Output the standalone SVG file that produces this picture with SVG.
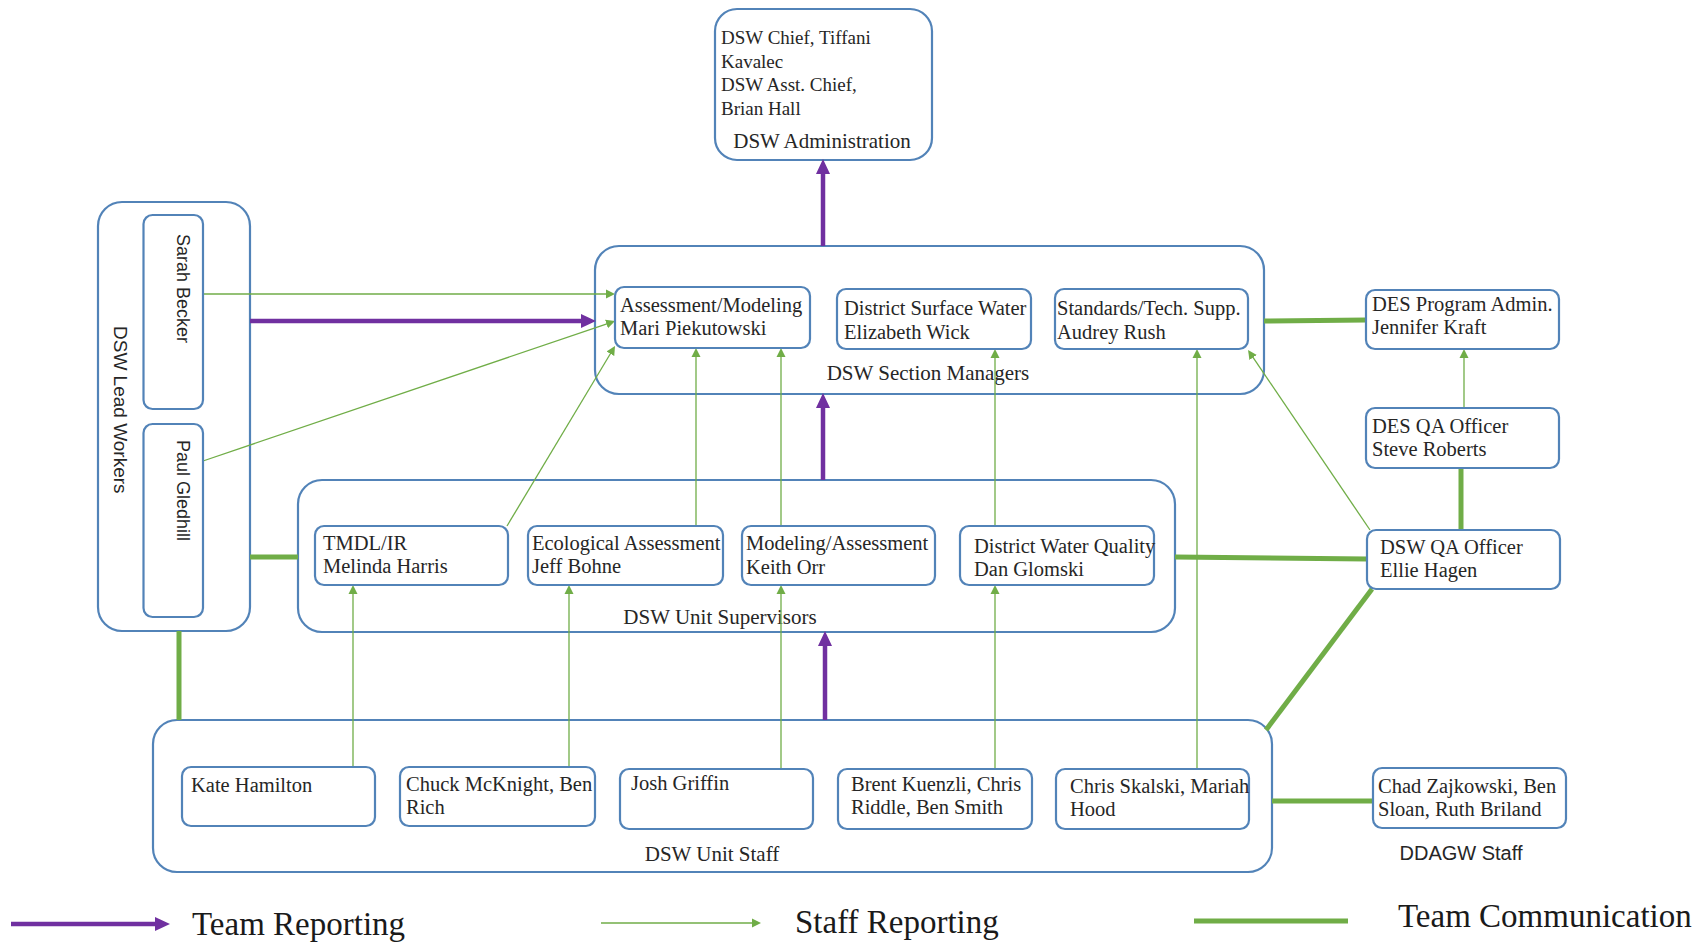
<svg xmlns="http://www.w3.org/2000/svg" width="1705" height="942" viewBox="0 0 1705 942">
<style>
.box{fill:#fff;stroke:#5283b8;stroke-width:2.2}
.t{font-family:"Liberation Serif",serif;font-size:20.5px;fill:#262626}
.ta{font-family:"Liberation Serif",serif;font-size:19px;fill:#262626}
.lbl{font-family:"Liberation Serif",serif;font-size:21px;fill:#262626;text-anchor:middle}
.s{font-family:"Liberation Sans",sans-serif;font-size:18px;fill:#262626}
.leg{font-family:"Liberation Serif",serif;font-size:33px;fill:#1a1a1a}
.team{stroke:#7030a0;stroke-width:4.5;fill:none;marker-end:url(#ap)}
.staff{stroke:#70ad47;stroke-width:1.3;fill:none;marker-end:url(#ag)}
.comm{stroke:#70ad47;stroke-width:5;fill:none}
</style>
<defs>
<marker id="ap" markerUnits="userSpaceOnUse" markerWidth="16" markerHeight="16" refX="4" refY="8" orient="auto">
<path d="M0,1 L15,8 L0,15 z" fill="#7030a0"/>
</marker>
<marker id="ag" markerUnits="userSpaceOnUse" markerWidth="10" markerHeight="10" refX="2" refY="5" orient="auto">
<path d="M0,0.5 L9,5 L0,9.5 z" fill="#70ad47"/>
</marker>
</defs>
<rect width="1705" height="942" fill="#fff"/>

<g id="admin">
<rect class="box" x="715" y="9" width="217" height="151" rx="22"/>
<text class="ta" x="721" y="44">DSW Chief, Tiffani</text>
<text class="ta" x="721" y="68">Kavalec</text>
<text class="ta" x="721" y="91">DSW Asst. Chief,</text>
<text class="ta" x="721" y="115">Brian Hall</text>
<text class="lbl" x="822" y="148">DSW Administration</text>
</g>

<g id="section-managers">
<rect class="box" x="595" y="246" width="669" height="148" rx="24"/>
<text class="lbl" x="928" y="380">DSW Section Managers</text>
</g>

<g id="lead-workers">
<rect class="box" x="98" y="202" width="152" height="429" rx="24"/>
<text class="s" style="font-size:19px" transform="translate(114,326) rotate(90)">DSW Lead Workers</text>
</g>

<g id="unit-supervisors">
<rect class="box" x="298" y="480" width="877" height="152" rx="24"/>
<text class="lbl" x="720" y="624">DSW Unit Supervisors</text>
</g>

<g id="unit-staff">
<rect class="box" x="153" y="720" width="1119" height="152" rx="24"/>
<text class="lbl" x="712" y="861">DSW Unit Staff</text>
</g>

<g id="connectors">
<line class="team" x1="823" y1="246" x2="823" y2="170"/>
<line class="team" x1="250" y1="321" x2="585" y2="321"/>
<line class="team" x1="823" y1="480" x2="823" y2="404"/>
<line class="team" x1="825" y1="720" x2="825" y2="642"/>

<line class="staff" x1="203" y1="294" x2="608" y2="294"/>
<line class="staff" x1="203" y1="461" x2="608.4" y2="323.3"/>
<line class="staff" x1="507" y1="526" x2="611.4" y2="352"/>
<line class="staff" x1="696" y1="526" x2="696" y2="355"/>
<line class="staff" x1="781" y1="526" x2="781" y2="355"/>
<line class="staff" x1="995" y1="526" x2="995" y2="356"/>
<line class="staff" x1="353" y1="767" x2="353" y2="592"/>
<line class="staff" x1="569" y1="767" x2="569" y2="592"/>
<line class="staff" x1="781" y1="769" x2="781" y2="592"/>
<line class="staff" x1="995" y1="769" x2="995" y2="592"/>
<line class="staff" x1="1197" y1="769" x2="1197" y2="356"/>
<line class="staff" x1="1464" y1="408" x2="1464" y2="356"/>
<line class="staff" x1="1370" y1="530" x2="1252" y2="355.8"/>

<line class="comm" x1="250" y1="557" x2="298" y2="557"/>
<line class="comm" x1="179" y1="631" x2="179" y2="720"/>
<line class="comm" x1="1264" y1="321" x2="1366" y2="320"/>
<line class="comm" x1="1461" y1="468" x2="1461" y2="530"/>
<line class="comm" x1="1175" y1="557" x2="1367" y2="559"/>
<line class="comm" x1="1372" y1="589" x2="1266" y2="730"/>
<line class="comm" x1="1272" y1="801" x2="1373" y2="801"/>

<line class="team" x1="11" y1="924" x2="159" y2="924"/>
<line class="staff" x1="601" y1="923" x2="754" y2="923"/>
<line class="comm" x1="1194" y1="921" x2="1348" y2="921"/>
</g>

<g id="sarah-becker">
<rect class="box" x="143.5" y="215" width="59.5" height="194" rx="9"/>
<text class="s" transform="translate(177,234) rotate(90)">Sarah Becker</text>
</g>
<g id="paul-gledhill">
<rect class="box" x="143.5" y="424" width="59.5" height="193" rx="9"/>
<text class="s" transform="translate(177,440) rotate(90)">Paul Gledhill</text>
</g>

<g id="assessment-modeling">
<rect class="box" x="615" y="287" width="195" height="61" rx="9"/>
<text class="t" x="620" y="312">Assessment/Modeling</text>
<text class="t" x="620" y="335">Mari Piekutowski</text>
</g>
<g id="district-surface-water">
<rect class="box" x="837" y="289" width="194" height="60" rx="9"/>
<text class="t" x="844" y="315">District Surface Water</text>
<text class="t" x="844" y="339">Elizabeth Wick</text>
</g>
<g id="standards-tech">
<rect class="box" x="1055" y="289" width="193" height="60" rx="9"/>
<text class="t" x="1057" y="315">Standards/Tech. Supp.</text>
<text class="t" x="1057" y="339">Audrey Rush</text>
</g>

<g id="tmdl-ir">
<rect class="box" x="315" y="526" width="193" height="59" rx="9"/>
<text class="t" x="323" y="550">TMDL/IR</text>
<text class="t" x="323" y="573">Melinda Harris</text>
</g>
<g id="ecological-assessment">
<rect class="box" x="528" y="526" width="195" height="59" rx="9"/>
<text class="t" x="532" y="550">Ecological Assessment</text>
<text class="t" x="532" y="573">Jeff Bohne</text>
</g>
<g id="modeling-assessment">
<rect class="box" x="742" y="526" width="193" height="59" rx="9"/>
<text class="t" x="746" y="550">Modeling/Assessment</text>
<text class="t" x="746" y="574">Keith Orr</text>
</g>
<g id="district-water-quality">
<rect class="box" x="960" y="526" width="194" height="59" rx="9"/>
<text class="t" x="974" y="553">District Water Quality</text>
<text class="t" x="974" y="576">Dan Glomski</text>
</g>

<g id="kate-hamilton">
<rect class="box" x="182" y="767" width="193" height="59" rx="9"/>
<text class="t" x="191" y="792">Kate Hamilton</text>
</g>
<g id="chuck-mcknight">
<rect class="box" x="400" y="767" width="195" height="59" rx="9"/>
<text class="t" x="406" y="791">Chuck McKnight, Ben</text>
<text class="t" x="406" y="814">Rich</text>
</g>
<g id="josh-griffin">
<rect class="box" x="620" y="769" width="193" height="60" rx="9"/>
<text class="t" x="631" y="790">Josh Griffin</text>
</g>
<g id="brent-kuenzli">
<rect class="box" x="838" y="769" width="194" height="60" rx="9"/>
<text class="t" x="851" y="791">Brent Kuenzli, Chris</text>
<text class="t" x="851" y="814">Riddle, Ben  Smith</text>
</g>
<g id="chris-skalski">
<rect class="box" x="1056" y="769" width="193" height="60" rx="9"/>
<text class="t" x="1070" y="793">Chris Skalski, Mariah</text>
<text class="t" x="1070" y="816">Hood</text>
</g>

<g id="des-program-admin">
<rect class="box" x="1366" y="290" width="193" height="59" rx="9"/>
<text class="t" x="1372" y="311">DES Program Admin.</text>
<text class="t" x="1372" y="334">Jennifer Kraft</text>
</g>
<g id="des-qa-officer">
<rect class="box" x="1366" y="408" width="193" height="60" rx="9"/>
<text class="t" x="1372" y="433">DES QA Officer</text>
<text class="t" x="1372" y="456">Steve Roberts</text>
</g>
<g id="dsw-qa-officer">
<rect class="box" x="1367" y="530" width="193" height="59" rx="9"/>
<text class="t" x="1380" y="554">DSW QA Officer</text>
<text class="t" x="1380" y="577">Ellie Hagen</text>
</g>
<g id="ddagw-staff">
<rect class="box" x="1373" y="768" width="193" height="60" rx="9"/>
<text class="t" x="1378" y="793">Chad Zajkowski, Ben</text>
<text class="t" x="1378" y="816">Sloan, Ruth Briland</text>
<text class="s" style="font-size:20px;text-anchor:middle" x="1461" y="860">DDAGW Staff</text>
</g>

<g id="legend">
<text class="leg" x="192" y="935">Team Reporting</text>
<text class="leg" x="795" y="933">Staff Reporting</text>
<text class="leg" x="1398" y="927">Team Communication</text>
</g>
</svg>
